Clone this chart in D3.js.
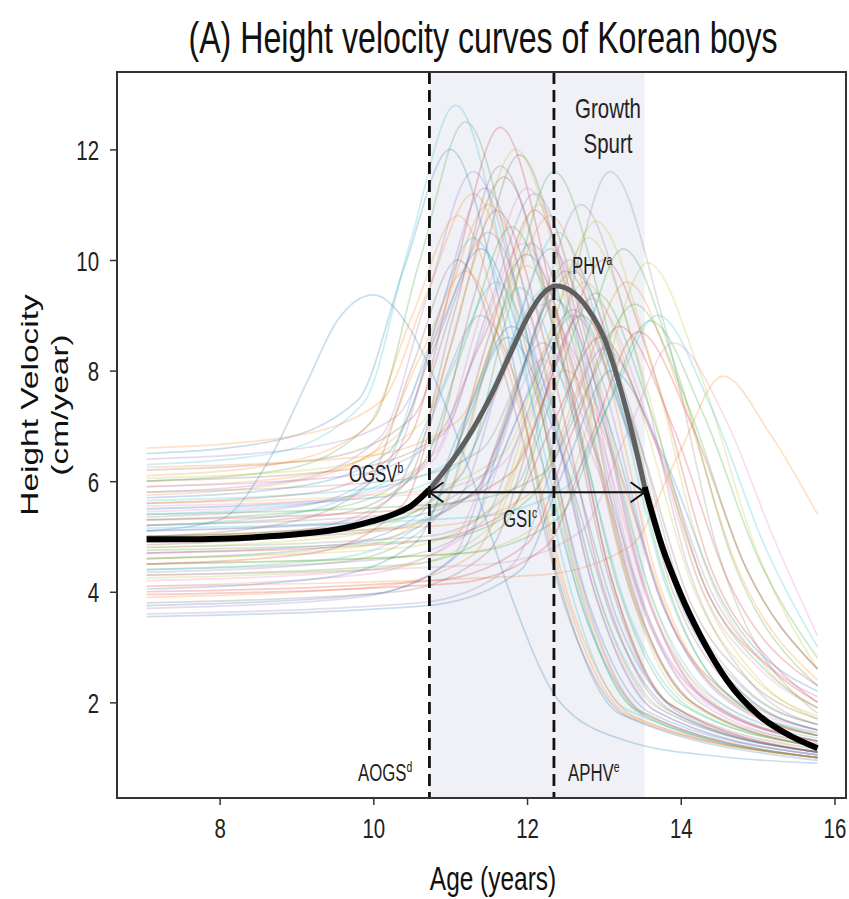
<!DOCTYPE html>
<html><head><meta charset="utf-8">
<script src="https://cdn.jsdelivr.net/npm/d3@7"></script>
<style>
body{margin:0;background:#fff}
svg{display:block}
text{font-family:"Liberation Sans",Arial,sans-serif}
</style>
</head><body>
<svg id="chart" width="849" height="899"></svg>
<script>
// ---------- data ----------
const xTicks = [8, 10, 12, 14, 16];
const yTicks = [2, 4, 6, 8, 10, 12];

// mean height-velocity curve (age in years, velocity in cm/year)
const meanAge = [7.05, 7.5, 8.0, 8.5, 9.0, 9.5, 9.75, 10.0, 10.3, 10.5, 10.73, 11.04, 11.3, 11.55, 11.78, 12.04, 12.2, 12.38, 12.56, 12.8, 13.0, 13.2, 13.38, 13.53, 13.75, 14.0, 14.25, 14.6, 15.03, 15.46, 15.78];
const meanVel = [4.95, 4.95, 4.96, 4.99, 5.04, 5.12, 5.19, 5.28, 5.42, 5.56, 5.85, 6.4, 6.95, 7.6, 8.3, 9.05, 9.38, 9.53, 9.45, 9.1, 8.6, 7.75, 6.8, 5.9, 4.85, 3.95, 3.22, 2.4, 1.75, 1.37, 1.17];

// key ages
const aogsAge = 10.73;      // age at onset of growth spurt
const aphvAge = 12.35;      // age at peak height velocity
const spurtEndAge = 13.53;  // end of growth spurt interval
const ogsvVel = 5.8;        // velocity at onset (GSI arrow level)

// individual curves: [age, velocity] knots
const individualCurves = [
 [[7.05,5.1],[8.0,5.3],[8.65,6.4],[9.14,7.8],[9.53,8.9],[10.0,9.37],[10.5,8.7],[10.75,8.0],[11.3,6.0],[11.8,3.9],[12.43,2.0],[13.3,1.3],[14.5,1.02],[15.78,0.9]],
 [[7.05,4.1],[12.15,4.3],[13.35,4.83],[13.95,6.42],[14.55,7.9],[15.16,6.86],[15.78,5.4]],
 [[7.05,6.0],[8.8,6.2],[10.0,7.11],[10.6,9.97],[11.2,12.5],[11.9,9.28],[12.6,4.45],[13.4,1.88],[15.78,1.0]],
 [[7.05,5.6],[9.25,5.8],[10.45,6.75],[11.05,9.75],[11.65,12.4],[12.35,9.24],[13.05,4.49],[13.85,1.97],[15.78,1.1]],
 [[7.05,5.8],[8.9,6.0],[10.1,6.81],[10.7,9.34],[11.3,11.6],[12.0,8.63],[12.7,4.18],[13.5,1.83],[15.78,1.0]],
 [[7.05,5.2],[9.5,5.4],[10.7,6.34],[11.3,9.29],[11.9,11.9],[12.6,8.9],[13.3,4.41],[14.1,2.04],[15.78,1.2]],
 [[7.05,5.5],[9.6,5.7],[10.8,6.51],[11.4,9.04],[12.0,11.3],[12.7,8.5],[13.4,4.3],[14.2,2.1],[15.78,1.3]],
 [[7.05,4.8],[10.68,5.0],[11.88,5.95],[12.48,8.95],[13.08,11.6],[13.78,8.86],[14.48,4.74],[15.78,1.8]],
 [[7.05,4.5],[11.17,4.7],[12.37,5.46],[12.97,7.82],[13.57,9.95],[14.27,7.89],[14.97,4.8],[15.78,2.6]],
 [[7.05,6.3],[8.67,6.5],[9.87,7.41],[10.47,10.27],[11.07,12.8],[11.77,9.5],[12.47,4.54],[13.27,1.89],[15.78,1.0]],
 [[7.05,6.5],[8.6,6.7],[9.8,7.47],[10.4,9.86],[11.0,12.0],[11.7,8.91],[12.4,4.27],[13.2,1.8],[15.78,0.95]],
 [[7.05,5.9],[9.1,6.1],[10.3,6.81],[10.9,9.01],[11.5,11.0],[12.2,8.23],[12.9,4.07],[13.7,1.9],[15.78,1.1]],
 [[7.05,5.3],[9.4,5.5],[10.6,6.24],[11.2,8.53],[11.8,10.6],[12.5,7.97],[13.2,4.02],[14.0,1.97],[15.78,1.2]],
 [[7.05,5.0],[9.7,5.2],[10.9,6.03],[11.5,8.6],[12.1,10.9],[12.8,8.21],[13.5,4.18],[14.3,2.08],[15.78,1.3]],
 [[7.05,4.7],[9.9,4.9],[11.1,5.67],[11.7,8.06],[12.3,10.2],[13.0,7.74],[13.7,4.04],[14.5,2.14],[15.78,1.4]],
 [[7.05,4.9],[10.1,5.1],[11.3,5.79],[11.9,7.89],[12.5,9.8],[13.2,7.48],[13.9,3.99],[14.7,2.22],[15.78,1.5]],
 [[7.05,5.1],[9.8,5.3],[11.0,5.87],[11.6,7.6],[12.2,9.2],[12.9,7.02],[13.6,3.74],[14.4,2.09],[15.78,1.4]],
 [[7.05,4.4],[10.2,4.6],[11.4,5.24],[12.0,7.21],[12.6,9.0],[13.3,6.93],[14.0,3.82],[14.8,2.27],[15.78,1.6]],
 [[7.05,4.6],[10.4,4.8],[11.6,5.61],[12.2,8.14],[12.8,10.4],[13.5,7.96],[14.2,4.31],[15.0,2.44],[15.78,1.7]],
 [[7.05,5.4],[9.2,5.6],[10.4,6.19],[11.0,7.96],[11.6,9.6],[12.3,7.22],[13.0,3.65],[13.8,1.83],[15.78,1.1]],
 [[7.05,5.7],[9.0,5.9],[10.2,6.53],[10.8,8.45],[11.4,10.2],[12.1,7.64],[12.8,3.8],[13.6,1.81],[15.78,1.05]],
 [[7.05,6.1],[8.7,6.3],[9.9,6.96],[10.5,8.97],[11.1,10.8],[11.8,8.06],[12.5,3.94],[13.3,1.79],[15.78,1.0]],
 [[7.05,4.3],[10.5,4.5],[11.7,5.21],[12.3,7.41],[12.9,9.4],[13.6,7.3],[14.3,4.15],[15.1,2.58],[15.78,1.9]],
 [[7.05,4.0],[10.8,4.2],[12.0,4.87],[12.6,6.93],[13.2,8.8],[13.9,6.98],[14.6,4.25],[15.78,2.3]],
 [[7.05,3.6],[10.6,3.8],[11.8,4.47],[12.4,6.53],[13.0,8.4],[13.7,6.64],[14.4,3.99],[15.2,2.6],[15.78,2.1]],
 [[7.05,3.8],[10.3,4.0],[11.5,4.73],[12.1,6.97],[12.7,9.0],[13.4,6.96],[14.1,3.89],[14.9,2.37],[15.78,1.7]],
 [[7.05,4.2],[10.0,4.4],[11.2,5.02],[11.8,6.88],[12.4,8.6],[13.1,6.61],[13.8,3.63],[14.6,2.16],[15.78,1.5]],
 [[7.05,5.2],[10.3,5.4],[11.5,6.21],[12.1,8.74],[12.7,11.0],[13.4,8.37],[14.1,4.42],[14.9,2.37],[15.78,1.6]],
 [[7.05,4.8],[9.6,5.0],[10.8,5.71],[11.4,7.91],[12.0,9.9],[12.7,7.46],[13.4,3.81],[14.2,1.94],[15.78,1.2]],
 [[7.05,5.5],[10.0,5.7],[11.2,6.4],[11.8,8.55],[12.4,10.5],[13.1,7.95],[13.8,4.13],[14.6,2.16],[15.78,1.4]],
 [[7.05,4.6],[9.4,4.8],[10.6,5.39],[11.2,7.16],[11.8,8.8],[12.5,6.64],[13.2,3.41],[14.0,1.79],[15.78,1.1]],
 [[7.05,5.0],[10.9,5.2],[12.1,5.84],[12.7,7.81],[13.3,9.6],[14.0,7.58],[14.7,4.56],[15.78,2.4]],
 [[7.05,4.5],[11.2,4.7],[12.4,5.32],[13.0,7.18],[13.6,8.9],[14.3,7.19],[15.0,4.63],[15.78,2.8]],
 [[7.05,5.3],[10.6,5.5],[11.8,6.16],[12.4,8.17],[13.0,10.0],[13.7,7.76],[14.4,4.4],[15.2,2.7],[15.78,2.0]],
 [[7.05,5.9],[9.7,6.1],[10.9,6.84],[11.5,9.13],[12.1,11.2],[12.8,8.43],[13.5,4.27],[14.3,2.1],[15.78,1.3]],
 [[7.05,6.2],[9.3,6.4],[10.5,7.14],[11.1,9.43],[11.7,11.5],[12.4,8.59],[13.1,4.22],[13.9,1.92],[15.78,1.1]],
 [[7.05,4.1],[9.8,4.3],[11.0,4.87],[11.6,6.6],[12.2,8.2],[12.9,6.27],[13.6,3.37],[14.4,1.95],[15.78,1.3]],
 [[7.05,4.9],[9.0,5.1],[10.2,5.67],[10.8,7.4],[11.4,9.0],[12.1,6.76],[12.8,3.4],[13.6,1.7],[15.78,1.0]],
 [[7.05,5.6],[10.5,5.8],[11.7,6.51],[12.3,8.71],[12.9,10.7],[13.6,8.24],[14.3,4.54],[15.1,2.64],[15.78,1.9]],
 [[7.05,4.4],[9.5,4.6],[10.7,5.31],[11.3,7.51],[11.9,9.5],[12.6,7.18],[13.3,3.69],[14.1,1.92],[15.78,1.2]],
 [[7.05,5.1],[10.2,5.3],[11.4,5.86],[12.0,7.54],[12.6,9.1],[13.3,6.97],[14.0,3.78],[14.8,2.18],[15.78,1.5]],
 [[7.05,3.9],[10.1,4.1],[11.3,4.67],[11.9,6.4],[12.5,8.0],[13.2,6.15],[13.9,3.38],[14.7,2.03],[15.78,1.4]],
 [[7.05,5.4],[11.0,5.6],[12.2,6.13],[12.8,7.72],[13.4,9.2],[14.1,7.35],[14.8,4.58],[15.78,2.6]],
 [[7.05,4.7],[10.55,4.9],[11.75,5.45],[12.35,7.08],[12.95,8.6],[13.65,6.75],[14.35,3.98],[15.15,2.63],[15.78,2.0]],
 [[7.05,6.4],[9.1,6.6],[10.3,7.17],[10.9,8.9],[11.5,10.5],[12.2,7.85],[12.9,3.89],[13.7,1.82],[15.78,1.05]],
 [[7.05,5.0],[8.7,5.2],[9.9,5.9],[10.5,8.05],[11.1,10.0],[11.8,7.48],[12.5,3.7],[13.3,1.75],[15.78,1.0]],
 [[7.05,4.3],[11.5,4.5],[12.7,5.09],[13.3,6.86],[13.9,8.5],[14.6,7.07],[15.2,5.0],[15.78,3.2]],
 [[7.05,5.8],[10.2,6.0],[11.4,6.56],[12.0,8.24],[12.6,9.8],[13.3,7.5],[14.0,4.06],[14.8,2.31],[15.78,1.6]],
 [[7.05,4.6],[9.75,4.8],[10.95,5.7],[11.55,8.5],[12.15,11.0],[12.85,8.28],[13.55,4.21],[14.35,2.09],[15.78,1.3]],
 [[7.05,5.2],[8.9,5.4],[10.1,6.13],[10.7,8.37],[11.3,10.4],[12.0,7.77],[12.7,3.82],[13.5,1.77],[15.78,1.0]],
 [[7.05,3.55],[10.7,3.75],[11.9,4.37],[12.5,6.26],[13.1,8.0],[13.8,6.38],[14.5,3.94],[15.78,2.2]],
 [[7.05,6.6],[8.9,6.8],[10.1,7.44],[10.7,9.41],[11.3,11.2],[12.0,8.34],[12.7,4.06],[13.5,1.81],[15.78,1.0]],
 [[7.05,5.0],[9.95,5.2],[11.15,6.12],[11.75,9.03],[12.35,11.6],[13.05,8.74],[13.75,4.46],[14.55,2.21],[15.78,1.4]],
 [[7.05,4.5],[9.2,4.7],[10.4,5.6],[11.0,8.4],[11.6,10.9],[12.3,8.16],[13.0,4.04],[13.8,1.89],[15.78,1.1]],
 [[7.05,3.7],[9.8,3.9],[11.0,4.57],[11.6,6.63],[12.2,8.5],[12.9,6.48],[13.6,3.46],[14.4,1.96],[15.78,1.3]],
 [[7.05,6.0],[9.6,6.2],[10.8,6.77],[11.4,8.5],[12.0,10.1],[12.7,7.61],[13.4,3.87],[14.2,1.95],[15.78,1.2]],
 [[7.05,5.45],[9.55,5.65],[10.75,6.33],[11.35,8.41],[11.95,10.3],[12.65,7.77],[13.35,3.97],[14.15,2.0],[15.78,1.25]],
 [[7.05,4.95],[10.15,5.15],[11.35,5.86],[11.95,8.03],[12.55,10.0],[13.25,7.62],[13.95,4.05],[14.75,2.23],[15.78,1.5]],
 [[7.05,4.25],[10.35,4.45],[11.55,5.2],[12.15,7.51],[12.75,9.6],[13.45,7.4],[14.15,4.11],[14.95,2.44],[15.78,1.75]],
 [[7.05,5.65],[9.85,5.85],[11.05,6.39],[11.65,8.0],[12.25,9.5],[12.95,7.22],[13.65,3.8],[14.45,2.06],[15.78,1.35]],
 [[7.05,4.05],[9.35,4.25],[10.55,4.89],[11.15,6.83],[11.75,8.6],[12.45,6.5],[13.15,3.35],[13.95,1.78],[15.78,1.1]],
 [[7.05,6.25],[9.9,6.45],[11.1,7.09],[11.7,9.03],[12.3,10.8],[13.0,8.17],[13.7,4.22],[14.5,2.17],[15.78,1.4]],
 [[7.05,4.75],[10.85,4.95],[12.05,5.71],[12.65,8.07],[13.25,10.2],[13.95,7.99],[14.65,4.67],[15.78,2.3]],
 [[7.05,3.95],[11.05,4.15],[12.25,4.82],[12.85,6.85],[13.45,8.7],[14.15,6.99],[14.85,4.43],[15.78,2.6]],
 [[7.05,5.35],[9.05,5.55],[10.25,6.38],[10.85,8.98],[11.45,11.3],[12.15,8.43],[12.85,4.13],[13.65,1.86],[15.78,1.05]],
 [[7.05,4.85],[9.25,5.05],[10.45,6.01],[11.05,9.03],[11.65,11.7],[12.35,8.75],[13.05,4.32],[13.85,1.98],[15.78,1.15]],
 [[7.05,5.55],[10.45,5.75],[11.65,6.28],[12.25,7.84],[12.85,9.3],[13.55,7.23],[14.25,4.12],[15.05,2.57],[15.78,1.9]],
 [[7.05,4.35],[9.65,4.55],[10.85,5.38],[11.45,7.98],[12.05,10.3],[12.75,7.77],[13.45,3.97],[14.25,2.0],[15.78,1.25]],
 [[7.05,6.05],[9.45,6.25],[10.65,7.08],[11.25,9.68],[11.85,12.0],[12.55,8.98],[13.25,4.44],[14.05,2.04],[15.78,1.2]],
 [[7.05,5.15],[11.3,5.35],[12.5,5.89],[13.1,7.5],[13.7,9.0],[14.4,7.32],[15.1,4.8],[15.78,3.0]],
 [[7.05,3.75],[9.95,3.95],[11.15,4.73],[11.75,7.14],[12.35,9.3],[13.05,7.1],[13.75,3.81],[14.55,2.14],[15.78,1.45]],
 [[7.05,5.75],[8.8,5.95],[10.0,6.52],[10.6,8.22],[11.2,9.8],[11.9,7.34],[12.6,3.64],[13.4,1.74],[15.78,1.0]]
];

const palette = ["#1f77b4","#ff7f0e","#2ca02c","#d62728","#9467bd","#8c564b","#e377c2","#7f7f7f","#bcbd22","#17becf"];

// ---------- layout ----------
const L = 117, R = 846, T = 72, B = 798;
const SX = 0.73; // horizontal squeeze of the original figure's text
const svg = d3.select("#chart");
const x = d3.scaleLinear().domain([6.665, 16.15]).range([L, R]);
const y = d3.scaleLinear().domain([0.27, 13.4]).range([B, T]);

function label(parent, px, py, str, size, anchor, fill) {
  return parent.append("text")
    .attr("transform", `translate(${px},${py}) scale(${SX},1)`)
    .attr("text-anchor", anchor || "start")
    .attr("font-size", size)
    .attr("fill", fill || "#222")
    .text(str);
}
function supLabel(parent, px, py, main, sup, size) {
  const t = parent.append("text")
    .attr("transform", `translate(${px},${py}) scale(${SX},1)`)
    .attr("font-size", size).attr("fill", "#222");
  t.append("tspan").text(main);
  t.append("tspan").attr("font-size", size * 0.62).attr("dy", -size * 0.38).text(sup);
  return t;
}

// shaded growth-spurt band
svg.append("rect")
  .attr("x", x(aogsAge)).attr("y", T)
  .attr("width", x(spurtEndAge) - x(aogsAge)).attr("height", B - T)
  .attr("fill", "#eff1f6");

// individual curves
const line = d3.line().x(d => x(d[0])).y(d => y(d[1])).curve(d3.curveMonotoneX);
svg.append("g").selectAll("path").data(individualCurves).join("path")
  .attr("d", line)
  .attr("fill", "none")
  .attr("stroke", (d, i) => palette[i % palette.length])
  .attr("stroke-opacity", 0.24)
  .attr("stroke-width", 1.7);

// mean curve: black before/after growth spurt, grey during
const meanPts = meanAge.map((a, i) => [a, meanVel[i]]);
const seg1 = meanPts.filter(p => p[0] <= aogsAge);
const seg2 = meanPts.filter(p => p[0] >= aogsAge && p[0] <= spurtEndAge);
const seg3 = meanPts.filter(p => p[0] >= spurtEndAge);
svg.append("path").attr("d", line(seg1)).attr("fill", "none").attr("stroke", "#000").attr("stroke-width", 6);
svg.append("path").attr("d", line(seg3)).attr("fill", "none").attr("stroke", "#000").attr("stroke-width", 6);
svg.append("path").attr("d", line(seg2)).attr("fill", "none").attr("stroke", "#5f5f5f").attr("stroke-width", 5);

// dashed vertical markers
[aogsAge, aphvAge].forEach(a => {
  svg.append("line")
    .attr("x1", x(a)).attr("x2", x(a)).attr("y1", T).attr("y2", B)
    .attr("stroke", "#111").attr("stroke-width", 2.8)
    .attr("stroke-dasharray", "12,6");
});

// GSI double arrow
const ay = y(ogsvVel), ax1 = x(aogsAge), ax2 = x(spurtEndAge);
const arrow = svg.append("g").attr("stroke", "#111").attr("stroke-width", 2).attr("fill", "none");
arrow.append("line").attr("x1", ax1).attr("x2", ax2).attr("y1", ay).attr("y2", ay);
arrow.append("polyline").attr("points", `${ax1 + 14},${ay - 10} ${ax1},${ay} ${ax1 + 14},${ay + 10}`);
arrow.append("polyline").attr("points", `${ax2 - 14},${ay - 10} ${ax2},${ay} ${ax2 - 14},${ay + 10}`);

// frame
svg.append("rect").attr("x", L).attr("y", T).attr("width", R - L).attr("height", B - T)
  .attr("fill", "none").attr("stroke", "#333").attr("stroke-width", 2);

// axes
const gx = svg.append("g").attr("transform", `translate(0,${B})`)
  .call(d3.axisBottom(x).tickValues(xTicks).tickSize(7).tickFormat(d3.format("d")));
gx.select(".domain").remove();
gx.selectAll("line").attr("stroke", "#333").attr("stroke-width", 1.5);
gx.selectAll("text").attr("y", null).attr("dy", null)
  .attr("transform", `translate(0,40) scale(${SX},1)`)
  .attr("font-size", 28).attr("fill", "#222")
  .style("font-family", '"Liberation Sans", Arial, sans-serif');

const gy = svg.append("g").attr("transform", `translate(${L},0)`)
  .call(d3.axisLeft(y).tickValues(yTicks).tickSize(7).tickFormat(d3.format("d")));
gy.select(".domain").remove();
gy.selectAll("line").attr("stroke", "#333").attr("stroke-width", 1.5);
gy.selectAll("text").attr("x", null).attr("dy", "0.36em")
  .attr("transform", `translate(-18,0) scale(${SX},1)`)
  .attr("font-size", 28).attr("fill", "#222")
  .style("font-family", '"Liberation Sans", Arial, sans-serif');

// titles
label(svg, 483, 53, "(A) Height velocity curves of Korean boys", 44, "middle", "#111");
label(svg, 493, 890, "Age (years)", 33.5, "middle", "#111");
svg.append("text")
  .attr("transform", `translate(38,405) scale(${SX},1) rotate(-90)`)
  .attr("text-anchor", "middle").attr("font-size", 33.5).attr("fill", "#111")
  .text("Height Velocity");
svg.append("text")
  .attr("transform", `translate(68,405) scale(${SX},1) rotate(-90)`)
  .attr("text-anchor", "middle").attr("font-size", 33.5).attr("fill", "#111")
  .text("(cm/year)");

// annotations
label(svg, 608, 118, "Growth", 28, "middle");
label(svg, 608, 153, "Spurt", 28, "middle");
supLabel(svg, 572, 274, "PHV", "a", 23);
supLabel(svg, 349, 482, "OGSV", "b", 23);
supLabel(svg, 503, 527, "GSI", "c", 23);
supLabel(svg, 358, 781, "AOGS", "d", 23);
supLabel(svg, 568, 781, "APHV", "e", 23);
</script>
</body></html>
